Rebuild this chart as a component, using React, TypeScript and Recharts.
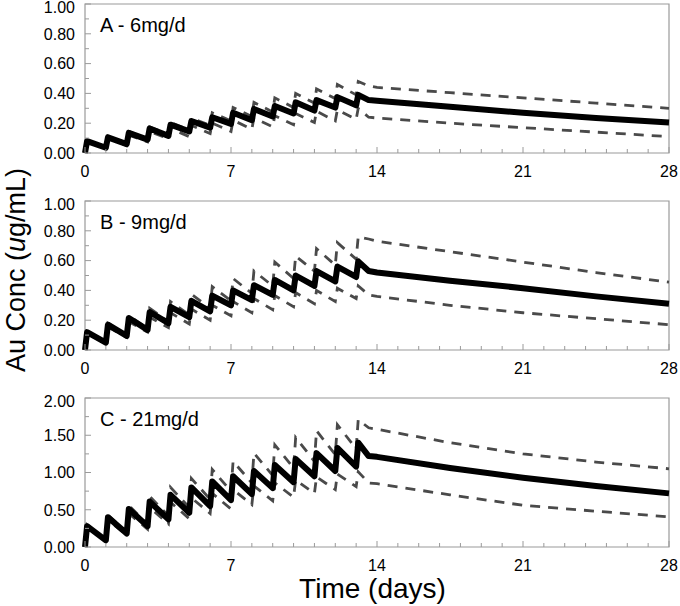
import React from 'react';
import { LineChart, Line, XAxis, YAxis, ReferenceArea } from 'recharts';

// ─── Au concentration vs time, three dose panels ─────────────────
// Thick black = median, grey dashed = upper / lower percentile bands.

const DOSE_DAYS = [0, 1, 2, 3, 4, 5, 6, 7, 8, 9, 10, 11, 12, 13];
const PEAK_LAG = 0.1;
const POST_TIMES = [13.6, 14, 17.5, 21, 24.5, 28];
const X_TICKS = [0, 1, 2, 3, 4, 5, 6, 7, 8, 9, 10, 11, 12, 13, 14, 15, 16, 17, 18, 19, 20, 21, 22, 23, 24, 25, 26, 27, 28];
const X_LABELS = [0, 7, 14, 21, 28];

// Panel A - 6mg/d
const A_MED_TROUGH = [0, 0.035, 0.06, 0.09, 0.115, 0.145, 0.17, 0.195, 0.22, 0.245, 0.265, 0.285, 0.305, 0.32];
const A_MED_PEAK = [0.08, 0.105, 0.135, 0.165, 0.19, 0.215, 0.24, 0.27, 0.295, 0.315, 0.34, 0.355, 0.375, 0.39];
const A_MED_POST = [0.355, 0.35, 0.31, 0.27, 0.235, 0.205];
const A_UP_TROUGH = [0, 0.04, 0.065, 0.095, 0.125, 0.155, 0.185, 0.215, 0.245, 0.275, 0.305, 0.335, 0.365, 0.39];
const A_UP_PEAK = [0.085, 0.115, 0.145, 0.175, 0.205, 0.235, 0.27, 0.305, 0.34, 0.37, 0.4, 0.43, 0.46, 0.48];
const A_UP_POST = [0.45, 0.44, 0.405, 0.37, 0.335, 0.3];
const A_LO_TROUGH = [0, 0.03, 0.05, 0.075, 0.095, 0.11, 0.13, 0.145, 0.16, 0.175, 0.19, 0.205, 0.215, 0.225];
const A_LO_PEAK = [0.075, 0.1, 0.12, 0.145, 0.165, 0.185, 0.2, 0.22, 0.235, 0.25, 0.265, 0.28, 0.29, 0.3];
const A_LO_POST = [0.24, 0.235, 0.2, 0.17, 0.14, 0.11];

// Panel B - 9mg/d
const B_MED_TROUGH = [0, 0.05, 0.095, 0.135, 0.18, 0.22, 0.26, 0.3, 0.335, 0.37, 0.4, 0.43, 0.46, 0.49];
const B_MED_PEAK = [0.12, 0.17, 0.215, 0.255, 0.29, 0.33, 0.365, 0.4, 0.435, 0.47, 0.5, 0.53, 0.56, 0.595];
const B_MED_POST = [0.53, 0.52, 0.465, 0.415, 0.36, 0.31];
const B_UP_TROUGH = [0, 0.05, 0.1, 0.145, 0.19, 0.235, 0.28, 0.33, 0.38, 0.43, 0.48, 0.53, 0.57, 0.61];
const B_UP_PEAK = [0.125, 0.18, 0.23, 0.28, 0.325, 0.375, 0.425, 0.48, 0.53, 0.59, 0.63, 0.68, 0.72, 0.76];
const B_UP_POST = [0.745, 0.73, 0.66, 0.59, 0.52, 0.455];
const B_LO_TROUGH = [0, 0.045, 0.085, 0.12, 0.15, 0.175, 0.2, 0.23, 0.25, 0.27, 0.29, 0.31, 0.325, 0.345];
const B_LO_PEAK = [0.11, 0.155, 0.19, 0.22, 0.25, 0.275, 0.3, 0.325, 0.345, 0.365, 0.385, 0.4, 0.415, 0.43];
const B_LO_POST = [0.37, 0.36, 0.3, 0.25, 0.21, 0.17];

// Panel C - 21mg/d
const C_MED_TROUGH = [0, 0.09, 0.18, 0.28, 0.37, 0.46, 0.55, 0.63, 0.71, 0.79, 0.87, 0.95, 1.02, 1.08];
const C_MED_PEAK = [0.28, 0.4, 0.51, 0.61, 0.7, 0.8, 0.88, 0.95, 1.02, 1.1, 1.18, 1.26, 1.33, 1.4];
const C_MED_POST = [1.22, 1.21, 1.06, 0.93, 0.82, 0.72];
const C_UP_TROUGH = [0, 0.1, 0.2, 0.3, 0.42, 0.53, 0.64, 0.75, 0.86, 0.96, 1.06, 1.15, 1.24, 1.32];
const C_UP_PEAK = [0.3, 0.43, 0.56, 0.68, 0.8, 0.92, 1.04, 1.15, 1.26, 1.37, 1.47, 1.56, 1.64, 1.71];
const C_UP_POST = [1.6, 1.58, 1.4, 1.25, 1.14, 1.05];
const C_LO_TROUGH = [0, 0.08, 0.16, 0.24, 0.31, 0.38, 0.45, 0.51, 0.57, 0.62, 0.67, 0.72, 0.77, 0.81];
const C_LO_PEAK = [0.26, 0.36, 0.45, 0.53, 0.6, 0.66, 0.72, 0.77, 0.82, 0.86, 0.9, 0.94, 0.98, 1.01];
const C_LO_POST = [0.86, 0.85, 0.7, 0.56, 0.48, 0.405];

const Y_TICKS_AB = [0, 0.1, 0.2, 0.3, 0.4, 0.5, 0.6, 0.7, 0.8, 0.9, 1.0];
const Y_LABELS_AB = [0, 0.2, 0.4, 0.6, 0.8, 1.0];
const Y_TICKS_C = [0, 0.25, 0.5, 0.75, 1.0, 1.25, 1.5, 1.75, 2.0];
const Y_LABELS_C = [0, 0.5, 1.0, 1.5, 2.0];

type Row = { t: number; med: number; up: number; lo: number };

function buildRows(
    medT: number[], medP: number[], medPost: number[],
    upT: number[], upP: number[], upPost: number[],
    loT: number[], loP: number[], loPost: number[],
): Row[] {
    const rows: Row[] = [];
    DOSE_DAYS.forEach((d, i) => {
        rows.push({ t: d, med: medT[i], up: upT[i], lo: loT[i] });
        rows.push({ t: d + PEAK_LAG, med: medP[i], up: upP[i], lo: loP[i] });
    });
    POST_TIMES.forEach((t, i) => {
        rows.push({ t, med: medPost[i], up: upPost[i], lo: loPost[i] });
    });
    return rows;
}

const PANELS = [
    {
        key: 'A', label: 'A - 6mg/d', top: 4, yMax: 1, yTicks: Y_TICKS_AB, yLabels: Y_LABELS_AB,
        rows: buildRows(A_MED_TROUGH, A_MED_PEAK, A_MED_POST, A_UP_TROUGH, A_UP_PEAK, A_UP_POST, A_LO_TROUGH, A_LO_PEAK, A_LO_POST),
    },
    {
        key: 'B', label: 'B - 9mg/d', top: 201, yMax: 1, yTicks: Y_TICKS_AB, yLabels: Y_LABELS_AB,
        rows: buildRows(B_MED_TROUGH, B_MED_PEAK, B_MED_POST, B_UP_TROUGH, B_UP_PEAK, B_UP_POST, B_LO_TROUGH, B_LO_PEAK, B_LO_POST),
    },
    {
        key: 'C', label: 'C - 21mg/d', top: 398, yMax: 2, yTicks: Y_TICKS_C, yLabels: Y_LABELS_C,
        rows: buildRows(C_MED_TROUGH, C_MED_PEAK, C_MED_POST, C_UP_TROUGH, C_UP_PEAK, C_UP_POST, C_LO_TROUGH, C_LO_PEAK, C_LO_POST),
    },
];

const FONT = '"Liberation Sans", Arial, Helvetica, sans-serif';
const PLOT_H = 149;
const M_TOP = 12;
const AXIS_GREY = '#9a9a9a';
const BAND_GREY = '#4a4a4a';

const XTick = (props: any) => {
    const { x, y, payload } = props;
    const v = payload.value;
    const major = X_LABELS.includes(v);
    return (
        <g>
            <line x1={x} x2={x} y1={y} y2={y - (major ? 6 : 4)} stroke={AXIS_GREY} strokeWidth={1} />
            {major && (
                <text x={x} y={y + 23.5} textAnchor="middle" fontSize={16} fontFamily={FONT} fill="#000">
                    {v}
                </text>
            )}
        </g>
    );
};

const YTick = (props: any) => {
    const { x, y, payload, labels, yMax } = props;
    const v = payload.value;
    const major = labels.some((l: number) => Math.abs(l - v) < 1e-6);
    // top label sits a little lower so it stays inside the frame edge
    const nudge = Math.abs(v - yMax) < 1e-6 ? 3 : 0;
    return (
        <g>
            <line x1={x} x2={x + (major ? 6 : 4)} y1={y} y2={y} stroke={AXIS_GREY} strokeWidth={1} />
            {major && (
                <text x={x - 10} y={y + 5.8 + nudge} textAnchor="end" fontSize={16} fontFamily={FONT} fill="#000">
                    {v.toFixed(2)}
                </text>
            )}
        </g>
    );
};

function Panel({ p }: { p: (typeof PANELS)[number] }) {
    return (
        <div style={{ position: 'absolute', left: 0, top: p.top - M_TOP }}>
            <LineChart
                width={680}
                height={M_TOP + PLOT_H + 30}
                data={p.rows}
                margin={{ top: M_TOP, right: 11, bottom: 0, left: 0 }}
            >
                <XAxis
                    dataKey="t"
                    type="number"
                    domain={[0, 28]}
                    ticks={X_TICKS}
                    interval={0}
                    tickSize={0}
                    tickMargin={0}
                    axisLine={false}
                    tickLine={false}
                    height={30}
                    tick={(tp: any) => <XTick {...tp} />}
                />
                <YAxis
                    type="number"
                    domain={[0, p.yMax]}
                    ticks={p.yTicks}
                    interval={0}
                    tickSize={0}
                    tickMargin={0}
                    axisLine={false}
                    tickLine={false}
                    width={85}
                    tick={(tp: any) => <YTick {...tp} labels={p.yLabels} yMax={p.yMax} />}
                />
                <ReferenceArea x1={0} x2={28} y1={0} y2={p.yMax} fill="none" stroke={AXIS_GREY} strokeWidth={1.2} />
                <Line type="linear" dataKey="up" stroke={BAND_GREY} strokeWidth={2.8} strokeDasharray="10 8" dot={false} isAnimationActive={false} />
                <Line type="linear" dataKey="lo" stroke={BAND_GREY} strokeWidth={2.8} strokeDasharray="10 8" dot={false} isAnimationActive={false} />
                <Line type="linear" dataKey="med" stroke="#000" strokeWidth={6} strokeLinejoin="round" dot={false} isAnimationActive={false} />
            </LineChart>
        </div>
    );
}

export default function App() {
    return (
        <div style={{ position: 'absolute', left: 0, top: 0, width: 680, height: 606, background: '#fff', fontFamily: FONT }}>
            {PANELS.map((p) => (
                <Panel key={p.key} p={p} />
            ))}
            <svg width={680} height={606} style={{ position: 'absolute', left: 0, top: 0, pointerEvents: 'none' }}>
                {PANELS.map((p) => (
                    <text key={p.key} x={100} y={p.top + 28} fontSize={20} fontFamily={FONT} fill="#000">
                        {p.label}
                    </text>
                ))}
                <text transform="translate(24.5, 270) rotate(-90)" textAnchor="middle" fontSize={27} fontFamily={FONT} fill="#000">
                    Au Conc (<tspan fontStyle="italic">u</tspan>g/mL)
                </text>
                <text x={372.5} y={598} textAnchor="middle" fontSize={28} fontFamily={FONT} fill="#000">
                    Time (days)
                </text>
            </svg>
        </div>
    );
}
